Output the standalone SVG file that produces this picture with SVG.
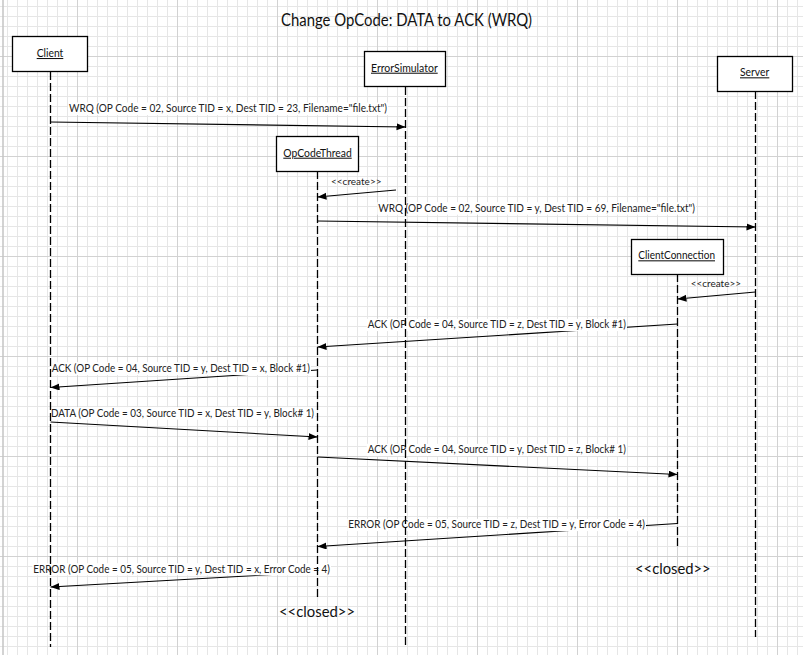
<svg xmlns="http://www.w3.org/2000/svg" width="803" height="655" viewBox="0 0 803 655">
<defs>
<pattern id="minor" width="10" height="10" patternUnits="userSpaceOnUse" x="7" y="6"><path d="M0.5 0V10M0 0.5H10" stroke="#e6e6e6" stroke-width="1" fill="none"/></pattern>
<pattern id="major" width="100" height="100" patternUnits="userSpaceOnUse" x="77" y="56"><path d="M0.5 0V100M0 0.5H100" stroke="#d2d2d2" stroke-width="1" fill="none"/></pattern>
<marker id="arr" markerUnits="userSpaceOnUse" markerWidth="10" markerHeight="8" refX="9" refY="3.5" orient="auto"><path d="M0,0 L9,3.5 L0,7 z" fill="#000"/></marker>
<style>
.box{fill:#fff;stroke:#000;stroke-width:1.3}
.nm{font-family:Lato,"Open Sans",sans-serif;font-size:10.5px;fill:#111;text-decoration:underline}
.life{stroke:#000;stroke-width:1.3;stroke-dasharray:8 3;fill:none}
.msg{stroke:#000;stroke-width:1.1;fill:none;marker-end:url(#arr)}
.lbl{font-family:Lato,"Open Sans",sans-serif;font-size:10.5px;fill:#222}
.cr{font-family:Lato,"Open Sans",sans-serif;font-size:9px;fill:#222}
.cl{font-family:Lato,"Open Sans",sans-serif;font-size:15.5px;fill:#111}
.bg{fill:#fff}
</style>
</defs>
<rect width="803" height="655" fill="#fff"/>
<rect width="803" height="655" fill="url(#minor)"/>
<rect width="803" height="655" fill="url(#major)"/>
<line x1="3" y1="0" x2="3" y2="655" stroke="#c4c4c4" stroke-width="1.5"/>
<text x="281" y="26" textLength="251" lengthAdjust="spacingAndGlyphs" font-family="Lato,'Open Sans',sans-serif" font-size="17px" fill="#111">Change OpCode: DATA to ACK (WRQ)</text>
<g id="connectors">
<line class="msg" x1="50.5" y1="122" x2="405.5" y2="127"/>
<rect class="bg" x="68" y="102.5" width="320" height="12.5"/>
<text class="lbl" x="69" y="112" textLength="318" lengthAdjust="spacingAndGlyphs">WRQ (OP Code = 02, Source TID = x, Dest TID = 23, Filename="file.txt")</text>

<line class="msg" x1="396" y1="190" x2="317.5" y2="197"/>
<text class="cr" x="331" y="185" textLength="50.5" lengthAdjust="spacingAndGlyphs">&lt;&lt;create&gt;&gt;</text>

<line class="msg" x1="317.5" y1="221" x2="755.5" y2="227"/>
<rect class="bg" x="377.3" y="202.2" width="318.7" height="12.5"/>
<text class="lbl" x="378.3" y="211.7" textLength="316.7" lengthAdjust="spacingAndGlyphs">WRQ (OP Code = 02, Source TID = y, Dest TID = 69, Filename="file.txt")</text>

<line class="msg" x1="755.5" y1="292" x2="677.5" y2="299"/>
<text class="cr" x="690.7" y="287.3" textLength="50.3" lengthAdjust="spacingAndGlyphs">&lt;&lt;create&gt;&gt;</text>

<line class="msg" x1="677.5" y1="324" x2="317.5" y2="347"/>
<rect class="bg" x="366.7" y="318.8" width="260.3" height="12.3"/>
<text class="lbl" x="367.7" y="328.3" textLength="258.3" lengthAdjust="spacingAndGlyphs">ACK (OP Code = 04, Source TID = z, Dest TID = y, Block #1)</text>

<line class="msg" x1="317.5" y1="370" x2="50.5" y2="387.5"/>
<rect class="bg" x="51.5" y="362.2" width="259.5" height="12.8"/>
<text class="lbl" x="51.7" y="371.7" textLength="258.3" lengthAdjust="spacingAndGlyphs">ACK (OP Code = 04, Source TID = y, Dest TID = x, Block #1)</text>

<line class="msg" x1="50.5" y1="422" x2="317.5" y2="437"/>
<rect class="bg" x="51" y="407.2" width="264" height="12.5"/>
<text class="lbl" x="51" y="416.7" textLength="263" lengthAdjust="spacingAndGlyphs">DATA (OP Code = 03, Source TID = x, Dest TID = y, Block# 1)</text>

<line class="msg" x1="317.5" y1="457" x2="677.5" y2="474.5"/>
<rect class="bg" x="366.7" y="443.8" width="260.3" height="12.5"/>
<text class="lbl" x="367.7" y="453.3" textLength="258.3" lengthAdjust="spacingAndGlyphs">ACK (OP Code = 04, Source TID = y, Dest TID = z, Block# 1)</text>

<line class="msg" x1="677.5" y1="523.5" x2="317.5" y2="546.5"/>
<rect class="bg" x="347.3" y="518.8" width="298.7" height="12.3"/>
<text class="lbl" x="348.3" y="528.3" textLength="296.7" lengthAdjust="spacingAndGlyphs">ERROR (OP Code = 05, Source TID = z, Dest TID = y, Error Code = 4)</text>

<line class="msg" x1="317.5" y1="572" x2="50.5" y2="587"/>
<rect class="bg" x="32.3" y="563.2" width="298.7" height="12"/>
<text class="lbl" x="33.3" y="572.7" textLength="296.7" lengthAdjust="spacingAndGlyphs">ERROR (OP Code = 05, Source TID = y, Dest TID = x, Error Code = 4)</text>
</g>
<g id="lifelines">
<line class="life" x1="50.5" y1="72" x2="50.5" y2="647"/>
<line class="life" x1="405.5" y1="87" x2="405.5" y2="647"/>
<line class="life" x1="755.5" y1="91" x2="755.5" y2="637"/>
<line class="life" x1="317.5" y1="171" x2="317.5" y2="597"/>
<line class="life" x1="677.5" y1="274" x2="677.5" y2="546"/>
</g>
<g id="client"><rect class="box" x="12.5" y="36.5" width="75" height="35"/><text class="nm" x="36.7" y="57" textLength="26.6" lengthAdjust="spacingAndGlyphs">Client</text></g>
<g id="errorsimulator"><rect class="box" x="364.5" y="51.5" width="81" height="35"/><text class="nm" x="371" y="71.7" textLength="66.7" lengthAdjust="spacingAndGlyphs">ErrorSimulator</text></g>
<g id="server"><rect class="box" x="717.5" y="56.5" width="75" height="35"/><text class="nm" x="740" y="76.3" textLength="29.3" lengthAdjust="spacingAndGlyphs">Server</text></g>
<g id="opcodethread"><rect class="box" x="276.5" y="136.5" width="82" height="35"/><text class="nm" x="283.3" y="156.7" textLength="68.4" lengthAdjust="spacingAndGlyphs">OpCodeThread</text></g>
<g id="clientconnection"><rect class="box" x="631.5" y="239.5" width="92" height="35"/><text class="nm" x="638.3" y="259.3" textLength="76.7" lengthAdjust="spacingAndGlyphs">ClientConnection</text></g>
<text class="cl" x="279" y="616.7" textLength="76" lengthAdjust="spacingAndGlyphs">&lt;&lt;closed&gt;&gt;</text>
<text class="cl" x="635" y="574" textLength="75.7" lengthAdjust="spacingAndGlyphs">&lt;&lt;closed&gt;&gt;</text>
</svg>
